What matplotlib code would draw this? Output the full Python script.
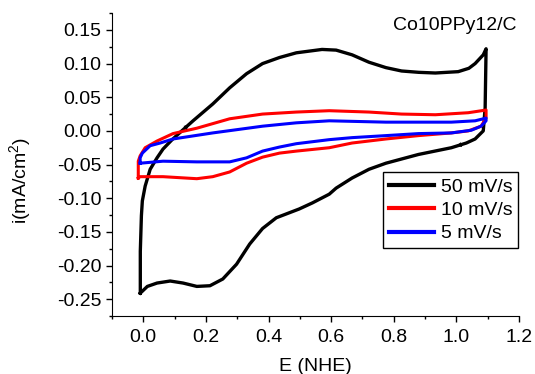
import numpy as np
import matplotlib
matplotlib.use("Agg")
import matplotlib.pyplot as plt
from matplotlib.ticker import MultipleLocator

plt.rcParams['font.family'] = ['Liberation Sans', 'DejaVu Sans']
plt.rcParams['mathtext.default'] = 'regular'

# 50 mV/s: anodic (upper) branch then cathodic (lower) branch
e50 = [-0.0095, -0.0095, -0.006, -0.003, 0.006, 0.022, 0.044, 0.063, 0.090, 0.111, 0.159,
       0.222, 0.276, 0.330, 0.381, 0.435, 0.489, 0.571, 0.616, 0.667, 0.721, 0.775, 0.825,
       0.880, 0.933, 1.006, 1.040, 1.060, 1.086, 1.095,
       1.092, 1.086, 1.060, 1.032, 0.984, 0.879, 0.775, 0.721, 0.667, 0.616,
       0.594, 0.540, 0.498, 0.425, 0.381, 0.340, 0.298, 0.254, 0.213, 0.171, 0.127,
       0.086, 0.044, 0.013, -0.0095]
i50 = [-0.241, -0.179, -0.126, -0.104, -0.082, -0.057, -0.040, -0.027, -0.014, -0.005, 0.015,
       0.040, 0.064, 0.085, 0.100, 0.109, 0.116, 0.121, 0.120, 0.113, 0.102, 0.094, 0.089,
       0.087, 0.086, 0.088, 0.093, 0.100, 0.113, 0.122,
       0.034, 0.000, -0.012, -0.018, -0.025, -0.035, -0.048, -0.057, -0.070, -0.085,
       -0.094, -0.107, -0.116, -0.129, -0.145, -0.168, -0.198, -0.220, -0.230, -0.231, -0.226,
       -0.223, -0.226, -0.231, -0.241]

# 10 mV/s
e10 = [-0.016, -0.016, -0.010, 0.006, 0.044, 0.095, 0.171, 0.276, 0.381, 0.489,
       0.594, 0.721, 0.825, 0.933, 1.038, 1.095,
       1.095, 1.079, 1.038, 0.984, 0.879, 0.775, 0.667, 0.594, 0.489, 0.435,
       0.381, 0.330, 0.276, 0.222, 0.171, 0.063, -0.010, -0.016]
i10 = [-0.070, -0.045, -0.037, -0.025, -0.015, -0.004, 0.004, 0.018, 0.025, 0.028,
       0.030, 0.028, 0.025, 0.024, 0.027, 0.031,
       0.019, 0.007, 0.000, -0.003, -0.007, -0.012, -0.018, -0.025, -0.030, -0.033,
       -0.039, -0.048, -0.061, -0.068, -0.071, -0.068, -0.068, -0.070]

# 5 mV/s
e5 = [-0.010, -0.010, -0.003, 0.022, 0.054, 0.095, 0.222, 0.381, 0.489, 0.594,
      0.775, 0.984, 1.060, 1.095,
      1.095, 1.079, 1.048, 0.984, 0.879, 0.775, 0.667, 0.594, 0.489, 0.435,
      0.381, 0.330, 0.276, 0.171, 0.063, -0.010]
i5 = [-0.048, -0.040, -0.033, -0.022, -0.018, -0.012, -0.003, 0.007, 0.012, 0.015,
      0.013, 0.013, 0.015, 0.019,
      0.015, 0.007, 0.001, -0.003, -0.004, -0.007, -0.010, -0.013, -0.019, -0.024,
      -0.030, -0.040, -0.046, -0.046, -0.045, -0.048]

fig = plt.figure(figsize=(5.35, 3.74), dpi=100)
ax = fig.add_axes([0.2093, 0.155, 0.7607, 0.81])

ax.plot(e50, i50, color='black', lw=2.4, label='50 mV/s')
ax.plot(e10, i10, color='red', lw=2.2, label='10 mV/s')
ax.plot(e5, i5, color='blue', lw=2.2, label='5 mV/s')

# small scan-direction arrowheads on the 50 mV/s loop
for k in [9, 33]:
    ax.annotate('', xy=(e50[k + 1], i50[k + 1]), xytext=(e50[k], i50[k]),
                arrowprops=dict(arrowstyle='-|>', color='black', lw=0, mutation_scale=9,
                                shrinkA=0, shrinkB=4))

ax.set_xlim(-0.1, 1.2)
ax.set_ylim(-0.275, 0.175)
ax.xaxis.set_major_locator(MultipleLocator(0.2))
ax.xaxis.set_minor_locator(MultipleLocator(0.1))
ax.yaxis.set_major_locator(MultipleLocator(0.05))
ax.yaxis.set_minor_locator(MultipleLocator(0.025))
ax.xaxis.set_major_formatter(lambda v, p: f"{v:.1f}")
ax.yaxis.set_major_formatter(lambda v, p: f"{v:.2f}")

for s in ['top', 'right']:
    ax.spines[s].set_visible(False)
ax.tick_params(which='major', direction='out', length=4, width=1, labelsize=14)
ax.tick_params(axis='x', which='major', pad=5)
ax.tick_params(which='minor', direction='out', length=2.5, width=1)

ax.set_xlabel('E (NHE)', fontsize=14)
ax.set_ylabel('i(mA/cm$^2$)', fontsize=14)
ax.xaxis.set_label_coords(0.5, -0.137)
ax.yaxis.set_label_coords(-0.194, 0.449)

ax.text(0.995, 0.96, 'Co10PPy12/C', transform=ax.transAxes, ha='right', va='center', fontsize=14)

leg = ax.legend(loc='upper right', bbox_to_anchor=(0.998, 0.475), borderaxespad=0,
                fontsize=14, handlelength=2.3, handletextpad=0.35, labelspacing=0.3,
                borderpad=0.3, fancybox=False, framealpha=1, edgecolor='black')
leg.get_frame().set_linewidth(1)
for line in leg.get_lines():
    line.set_linewidth(3)

fig.savefig('out.png', dpi=100)
